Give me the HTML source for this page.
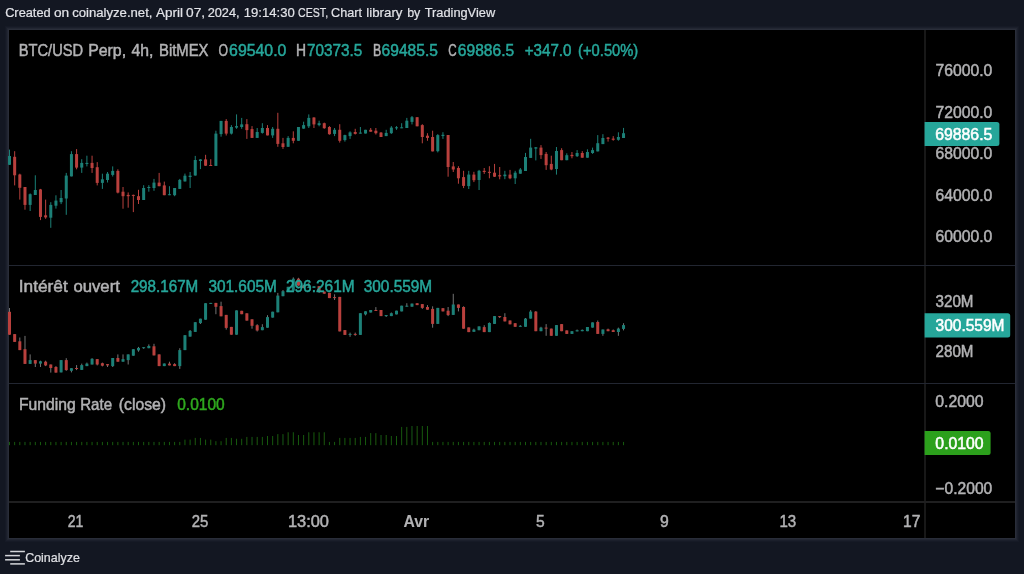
<!DOCTYPE html>
<html lang="fr"><head><meta charset="utf-8"><title>BTC/USD Perp, 4h, BitMEX - Coinalyze</title>
<style>html,body{margin:0;padding:0;background:#131722;overflow:hidden}svg{display:block}text{white-space:pre}</style></head>
<body>
<svg width="1024" height="574" viewBox="0 0 1024 574" font-family="'Liberation Sans', sans-serif">
<rect x="0.00" y="0.00" width="1024.00" height="574.00" fill="#131722"/>
<rect x="5.00" y="26.00" width="1014.00" height="516.00" fill="#161a26"/>
<rect x="6.00" y="27.00" width="1012.00" height="514.00" fill="#1b1f2b"/>
<rect x="7.00" y="28.00" width="1010.00" height="512.00" fill="#222632"/>
<rect x="8.00" y="29.00" width="1008.00" height="510.00" fill="#292d39"/>
<rect x="9.00" y="30.00" width="1006.00" height="508.00" fill="#000000"/>
<defs><clipPath id="cp"><rect x="8" y="30" width="916" height="471"/></clipPath><filter id="bl" x="0" y="0" width="1024" height="574" filterUnits="userSpaceOnUse"><feGaussianBlur stdDeviation="0.4"/></filter></defs>
<rect x="924.00" y="30.00" width="2.00" height="508.00" fill="#181818"/>
<rect x="9.00" y="265.00" width="1006.00" height="1.00" fill="#222631"/>
<rect x="9.00" y="383.00" width="1006.00" height="1.00" fill="#222631"/>
<rect x="9.00" y="501.00" width="1006.00" height="2.00" fill="#1f1f20"/>
<g clip-path="url(#cp)"><g filter="url(#bl)">
<rect x="9.00" y="149.60" width="1.00" height="15.20" fill="#1d8077"/>
<rect x="8.00" y="156.00" width="3.00" height="8.80" fill="#1d8077"/>
<rect x="14.16" y="151.20" width="1.00" height="34.20" fill="#b9413e"/>
<rect x="13.16" y="156.80" width="3.00" height="18.50" fill="#b9413e"/>
<rect x="19.32" y="173.70" width="1.00" height="25.90" fill="#b9413e"/>
<rect x="18.32" y="174.50" width="3.00" height="13.30" fill="#b9413e"/>
<rect x="24.48" y="187.00" width="1.00" height="22.70" fill="#b9413e"/>
<rect x="23.48" y="187.00" width="3.00" height="17.90" fill="#b9413e"/>
<rect x="29.64" y="193.40" width="1.00" height="17.60" fill="#1d8077"/>
<rect x="28.64" y="194.20" width="3.00" height="10.70" fill="#1d8077"/>
<rect x="34.80" y="175.30" width="1.00" height="19.70" fill="#1d8077"/>
<rect x="33.80" y="190.00" width="3.00" height="5.00" fill="#1d8077"/>
<rect x="39.96" y="188.90" width="1.00" height="31.20" fill="#b9413e"/>
<rect x="38.96" y="189.40" width="3.00" height="27.50" fill="#b9413e"/>
<rect x="45.12" y="199.60" width="1.00" height="19.20" fill="#b9413e"/>
<rect x="44.12" y="215.30" width="3.00" height="2.10" fill="#b9413e"/>
<rect x="50.28" y="202.20" width="1.00" height="25.60" fill="#1d8077"/>
<rect x="49.28" y="204.90" width="3.00" height="12.80" fill="#1d8077"/>
<rect x="55.44" y="195.30" width="1.00" height="13.30" fill="#1d8077"/>
<rect x="54.44" y="200.60" width="3.00" height="5.10" fill="#1d8077"/>
<rect x="60.60" y="190.00" width="1.00" height="14.10" fill="#1d8077"/>
<rect x="59.60" y="198.00" width="3.00" height="4.20" fill="#1d8077"/>
<rect x="65.76" y="172.90" width="1.00" height="41.90" fill="#1d8077"/>
<rect x="64.76" y="175.60" width="3.00" height="22.90" fill="#1d8077"/>
<rect x="70.92" y="151.20" width="1.00" height="25.20" fill="#1d8077"/>
<rect x="69.92" y="154.10" width="3.00" height="22.30" fill="#1d8077"/>
<rect x="76.08" y="149.10" width="1.00" height="20.20" fill="#b9413e"/>
<rect x="75.08" y="154.10" width="3.00" height="13.50" fill="#b9413e"/>
<rect x="81.24" y="159.20" width="1.00" height="13.70" fill="#1d8077"/>
<rect x="80.24" y="162.90" width="3.00" height="4.70" fill="#1d8077"/>
<rect x="86.40" y="155.70" width="1.00" height="10.70" fill="#1d8077"/>
<rect x="85.40" y="162.90" width="3.00" height="1.10" fill="#1d8077"/>
<rect x="91.56" y="155.70" width="1.00" height="17.20" fill="#b9413e"/>
<rect x="90.56" y="162.90" width="3.00" height="5.10" fill="#b9413e"/>
<rect x="96.72" y="162.10" width="1.00" height="23.30" fill="#b9413e"/>
<rect x="95.72" y="167.20" width="3.00" height="15.70" fill="#b9413e"/>
<rect x="101.88" y="173.70" width="1.00" height="15.20" fill="#1d8077"/>
<rect x="100.88" y="179.30" width="3.00" height="3.60" fill="#1d8077"/>
<rect x="107.04" y="172.00" width="1.00" height="10.50" fill="#1d8077"/>
<rect x="106.04" y="173.70" width="3.00" height="6.30" fill="#1d8077"/>
<rect x="112.20" y="166.40" width="1.00" height="10.10" fill="#1d8077"/>
<rect x="111.20" y="170.90" width="3.00" height="4.00" fill="#1d8077"/>
<rect x="117.36" y="169.30" width="1.00" height="24.10" fill="#b9413e"/>
<rect x="116.36" y="170.90" width="3.00" height="21.70" fill="#b9413e"/>
<rect x="122.52" y="187.00" width="1.00" height="21.70" fill="#b9413e"/>
<rect x="121.52" y="191.70" width="3.00" height="4.50" fill="#b9413e"/>
<rect x="127.68" y="192.40" width="1.00" height="15.30" fill="#b9413e"/>
<rect x="126.68" y="194.90" width="3.00" height="1.30" fill="#b9413e"/>
<rect x="132.84" y="194.60" width="1.00" height="17.50" fill="#b9413e"/>
<rect x="131.84" y="194.90" width="3.00" height="1.00" fill="#b9413e"/>
<rect x="138.00" y="189.80" width="1.00" height="14.20" fill="#b9413e"/>
<rect x="137.00" y="196.20" width="3.00" height="3.80" fill="#b9413e"/>
<rect x="143.16" y="185.20" width="1.00" height="14.80" fill="#1d8077"/>
<rect x="142.16" y="188.00" width="3.00" height="12.00" fill="#1d8077"/>
<rect x="148.32" y="185.20" width="1.00" height="6.50" fill="#1d8077"/>
<rect x="147.32" y="187.00" width="3.00" height="1.00" fill="#1d8077"/>
<rect x="153.48" y="178.90" width="1.00" height="11.90" fill="#1d8077"/>
<rect x="152.48" y="182.60" width="3.00" height="5.40" fill="#1d8077"/>
<rect x="158.64" y="172.90" width="1.00" height="13.30" fill="#b9413e"/>
<rect x="157.64" y="182.60" width="3.00" height="3.60" fill="#b9413e"/>
<rect x="163.80" y="181.60" width="1.00" height="13.60" fill="#b9413e"/>
<rect x="162.80" y="185.40" width="3.00" height="9.80" fill="#b9413e"/>
<rect x="168.96" y="186.20" width="1.00" height="9.00" fill="#1d8077"/>
<rect x="167.96" y="194.20" width="3.00" height="1.00" fill="#1d8077"/>
<rect x="174.12" y="188.00" width="1.00" height="8.20" fill="#1d8077"/>
<rect x="173.12" y="188.00" width="3.00" height="7.20" fill="#1d8077"/>
<rect x="179.28" y="178.90" width="1.00" height="10.00" fill="#1d8077"/>
<rect x="178.28" y="179.90" width="3.00" height="9.00" fill="#1d8077"/>
<rect x="184.44" y="173.60" width="1.00" height="8.00" fill="#1d8077"/>
<rect x="183.44" y="175.70" width="3.00" height="5.70" fill="#1d8077"/>
<rect x="189.60" y="172.00" width="1.00" height="16.00" fill="#1d8077"/>
<rect x="188.60" y="175.70" width="3.00" height="1.30" fill="#1d8077"/>
<rect x="194.76" y="155.90" width="1.00" height="19.80" fill="#1d8077"/>
<rect x="193.76" y="160.00" width="3.00" height="15.50" fill="#1d8077"/>
<rect x="199.92" y="159.20" width="1.00" height="9.90" fill="#1d8077"/>
<rect x="198.92" y="159.40" width="3.00" height="1.60" fill="#1d8077"/>
<rect x="205.08" y="154.80" width="1.00" height="11.10" fill="#b9413e"/>
<rect x="204.08" y="159.40" width="3.00" height="6.30" fill="#b9413e"/>
<rect x="210.24" y="159.20" width="1.00" height="6.70" fill="#b9413e"/>
<rect x="209.24" y="165.00" width="3.00" height="1.00" fill="#b9413e"/>
<rect x="215.40" y="130.70" width="1.00" height="35.20" fill="#1d8077"/>
<rect x="214.40" y="133.60" width="3.00" height="32.30" fill="#1d8077"/>
<rect x="220.56" y="120.90" width="1.00" height="15.80" fill="#1d8077"/>
<rect x="219.56" y="120.90" width="3.00" height="13.20" fill="#1d8077"/>
<rect x="225.72" y="119.10" width="1.00" height="16.40" fill="#b9413e"/>
<rect x="224.72" y="120.90" width="3.00" height="12.70" fill="#b9413e"/>
<rect x="230.88" y="125.10" width="1.00" height="9.40" fill="#1d8077"/>
<rect x="229.88" y="127.00" width="3.00" height="6.60" fill="#1d8077"/>
<rect x="236.04" y="114.40" width="1.00" height="14.40" fill="#1d8077"/>
<rect x="235.04" y="126.10" width="3.00" height="1.50" fill="#1d8077"/>
<rect x="241.20" y="117.90" width="1.00" height="10.90" fill="#1d8077"/>
<rect x="240.20" y="124.40" width="3.00" height="2.60" fill="#1d8077"/>
<rect x="246.36" y="119.10" width="1.00" height="19.80" fill="#b9413e"/>
<rect x="245.36" y="124.20" width="3.00" height="5.90" fill="#b9413e"/>
<rect x="251.52" y="126.10" width="1.00" height="11.80" fill="#b9413e"/>
<rect x="250.52" y="129.10" width="3.00" height="8.80" fill="#b9413e"/>
<rect x="256.68" y="128.00" width="1.00" height="9.90" fill="#1d8077"/>
<rect x="255.68" y="132.00" width="3.00" height="5.90" fill="#1d8077"/>
<rect x="261.84" y="123.20" width="1.00" height="10.40" fill="#1d8077"/>
<rect x="260.84" y="128.00" width="3.00" height="4.90" fill="#1d8077"/>
<rect x="267.00" y="125.10" width="1.00" height="10.30" fill="#b9413e"/>
<rect x="266.00" y="128.00" width="3.00" height="7.40" fill="#b9413e"/>
<rect x="272.16" y="127.00" width="1.00" height="10.90" fill="#1d8077"/>
<rect x="271.16" y="128.80" width="3.00" height="6.60" fill="#1d8077"/>
<rect x="277.32" y="112.80" width="1.00" height="34.00" fill="#b9413e"/>
<rect x="276.32" y="128.80" width="3.00" height="15.10" fill="#b9413e"/>
<rect x="282.48" y="137.90" width="1.00" height="11.00" fill="#b9413e"/>
<rect x="281.48" y="143.30" width="3.00" height="3.70" fill="#b9413e"/>
<rect x="287.64" y="136.10" width="1.00" height="10.70" fill="#1d8077"/>
<rect x="286.64" y="137.90" width="3.00" height="8.90" fill="#1d8077"/>
<rect x="292.80" y="131.30" width="1.00" height="12.00" fill="#b9413e"/>
<rect x="291.80" y="137.90" width="3.00" height="2.90" fill="#b9413e"/>
<rect x="297.96" y="127.00" width="1.00" height="13.80" fill="#1d8077"/>
<rect x="296.96" y="127.00" width="3.00" height="13.80" fill="#1d8077"/>
<rect x="303.12" y="121.70" width="1.00" height="7.10" fill="#1d8077"/>
<rect x="302.12" y="125.10" width="3.00" height="3.50" fill="#1d8077"/>
<rect x="308.28" y="114.40" width="1.00" height="13.60" fill="#1d8077"/>
<rect x="307.28" y="117.90" width="3.00" height="8.40" fill="#1d8077"/>
<rect x="313.44" y="117.20" width="1.00" height="10.80" fill="#b9413e"/>
<rect x="312.44" y="117.50" width="3.00" height="6.90" fill="#b9413e"/>
<rect x="318.60" y="120.70" width="1.00" height="5.60" fill="#1d8077"/>
<rect x="317.60" y="123.20" width="3.00" height="1.90" fill="#1d8077"/>
<rect x="323.76" y="122.60" width="1.00" height="6.20" fill="#b9413e"/>
<rect x="322.76" y="123.20" width="3.00" height="5.00" fill="#b9413e"/>
<rect x="328.92" y="126.10" width="1.00" height="8.60" fill="#b9413e"/>
<rect x="327.92" y="127.00" width="3.00" height="7.20" fill="#b9413e"/>
<rect x="334.08" y="128.00" width="1.00" height="8.10" fill="#1d8077"/>
<rect x="333.08" y="129.80" width="3.00" height="4.10" fill="#1d8077"/>
<rect x="339.24" y="124.20" width="1.00" height="18.40" fill="#b9413e"/>
<rect x="338.24" y="129.80" width="3.00" height="11.00" fill="#b9413e"/>
<rect x="344.40" y="134.70" width="1.00" height="6.90" fill="#1d8077"/>
<rect x="343.40" y="135.10" width="3.00" height="5.00" fill="#1d8077"/>
<rect x="349.56" y="131.30" width="1.00" height="7.60" fill="#1d8077"/>
<rect x="348.56" y="132.40" width="3.00" height="3.70" fill="#1d8077"/>
<rect x="354.72" y="128.80" width="1.00" height="5.70" fill="#b9413e"/>
<rect x="353.72" y="132.00" width="3.00" height="1.90" fill="#b9413e"/>
<rect x="359.88" y="127.00" width="1.00" height="6.60" fill="#1d8077"/>
<rect x="358.88" y="132.60" width="3.00" height="1.00" fill="#1d8077"/>
<rect x="365.04" y="129.80" width="1.00" height="3.70" fill="#1d8077"/>
<rect x="364.04" y="129.80" width="3.00" height="3.70" fill="#1d8077"/>
<rect x="370.20" y="128.00" width="1.00" height="3.70" fill="#b9413e"/>
<rect x="369.20" y="129.80" width="3.00" height="1.90" fill="#b9413e"/>
<rect x="375.36" y="128.00" width="1.00" height="6.50" fill="#b9413e"/>
<rect x="374.36" y="130.70" width="3.00" height="2.50" fill="#b9413e"/>
<rect x="380.52" y="132.00" width="1.00" height="5.00" fill="#b9413e"/>
<rect x="379.52" y="132.60" width="3.00" height="4.40" fill="#b9413e"/>
<rect x="385.68" y="129.80" width="1.00" height="6.30" fill="#1d8077"/>
<rect x="384.68" y="132.90" width="3.00" height="3.20" fill="#1d8077"/>
<rect x="390.84" y="126.10" width="1.00" height="7.80" fill="#1d8077"/>
<rect x="389.84" y="127.60" width="3.00" height="5.60" fill="#1d8077"/>
<rect x="396.00" y="126.10" width="1.00" height="3.70" fill="#1d8077"/>
<rect x="395.00" y="127.30" width="3.00" height="1.00" fill="#1d8077"/>
<rect x="401.16" y="123.20" width="1.00" height="5.00" fill="#1d8077"/>
<rect x="400.16" y="127.30" width="3.00" height="1.00" fill="#1d8077"/>
<rect x="406.32" y="117.90" width="1.00" height="10.10" fill="#1d8077"/>
<rect x="405.32" y="120.70" width="3.00" height="7.30" fill="#1d8077"/>
<rect x="411.48" y="116.00" width="1.00" height="8.40" fill="#1d8077"/>
<rect x="410.48" y="117.20" width="3.00" height="4.70" fill="#1d8077"/>
<rect x="416.64" y="117.20" width="1.00" height="9.10" fill="#b9413e"/>
<rect x="415.64" y="117.20" width="3.00" height="9.10" fill="#b9413e"/>
<rect x="421.80" y="124.20" width="1.00" height="19.10" fill="#b9413e"/>
<rect x="420.80" y="125.10" width="3.00" height="11.90" fill="#b9413e"/>
<rect x="426.96" y="133.20" width="1.00" height="7.60" fill="#b9413e"/>
<rect x="425.96" y="135.70" width="3.00" height="2.20" fill="#b9413e"/>
<rect x="432.12" y="130.70" width="1.00" height="20.70" fill="#b9413e"/>
<rect x="431.12" y="137.00" width="3.00" height="14.40" fill="#b9413e"/>
<rect x="437.28" y="134.10" width="1.00" height="18.30" fill="#1d8077"/>
<rect x="436.28" y="135.10" width="3.00" height="16.10" fill="#1d8077"/>
<rect x="442.44" y="132.20" width="1.00" height="6.70" fill="#1d8077"/>
<rect x="441.44" y="134.80" width="3.00" height="1.20" fill="#1d8077"/>
<rect x="447.60" y="135.00" width="1.00" height="41.70" fill="#b9413e"/>
<rect x="446.60" y="135.00" width="3.00" height="32.00" fill="#b9413e"/>
<rect x="452.76" y="162.00" width="1.00" height="10.00" fill="#b9413e"/>
<rect x="451.76" y="166.40" width="3.00" height="3.10" fill="#b9413e"/>
<rect x="457.92" y="166.20" width="1.00" height="17.50" fill="#b9413e"/>
<rect x="456.92" y="168.00" width="3.00" height="10.30" fill="#b9413e"/>
<rect x="463.08" y="170.80" width="1.00" height="17.30" fill="#b9413e"/>
<rect x="462.08" y="177.10" width="3.00" height="8.80" fill="#b9413e"/>
<rect x="468.24" y="170.80" width="1.00" height="18.20" fill="#1d8077"/>
<rect x="467.24" y="174.60" width="3.00" height="11.50" fill="#1d8077"/>
<rect x="473.40" y="171.80" width="1.00" height="10.30" fill="#b9413e"/>
<rect x="472.40" y="174.60" width="3.00" height="5.60" fill="#b9413e"/>
<rect x="478.56" y="169.90" width="1.00" height="20.10" fill="#1d8077"/>
<rect x="477.56" y="170.80" width="3.00" height="9.20" fill="#1d8077"/>
<rect x="483.72" y="168.00" width="1.00" height="5.90" fill="#b9413e"/>
<rect x="482.72" y="170.80" width="3.00" height="1.20" fill="#b9413e"/>
<rect x="488.88" y="166.20" width="1.00" height="12.10" fill="#b9413e"/>
<rect x="487.88" y="171.80" width="3.00" height="1.10" fill="#b9413e"/>
<rect x="494.04" y="163.90" width="1.00" height="13.10" fill="#b9413e"/>
<rect x="493.04" y="172.70" width="3.00" height="4.00" fill="#b9413e"/>
<rect x="499.20" y="167.00" width="1.00" height="12.30" fill="#b9413e"/>
<rect x="498.20" y="175.20" width="3.00" height="1.20" fill="#b9413e"/>
<rect x="504.36" y="170.80" width="1.00" height="8.40" fill="#1d8077"/>
<rect x="503.36" y="174.60" width="3.00" height="1.60" fill="#1d8077"/>
<rect x="509.52" y="169.90" width="1.00" height="9.30" fill="#b9413e"/>
<rect x="508.52" y="174.60" width="3.00" height="3.70" fill="#b9413e"/>
<rect x="514.68" y="170.80" width="1.00" height="13.20" fill="#1d8077"/>
<rect x="513.68" y="172.70" width="3.00" height="5.60" fill="#1d8077"/>
<rect x="519.84" y="168.00" width="1.00" height="5.70" fill="#1d8077"/>
<rect x="518.84" y="169.50" width="3.00" height="4.20" fill="#1d8077"/>
<rect x="525.00" y="152.90" width="1.00" height="18.10" fill="#1d8077"/>
<rect x="524.00" y="157.00" width="3.00" height="14.00" fill="#1d8077"/>
<rect x="530.16" y="138.80" width="1.00" height="19.10" fill="#1d8077"/>
<rect x="529.16" y="147.60" width="3.00" height="10.30" fill="#1d8077"/>
<rect x="535.32" y="147.00" width="1.00" height="13.40" fill="#1d8077"/>
<rect x="534.32" y="147.30" width="3.00" height="1.30" fill="#1d8077"/>
<rect x="540.48" y="145.10" width="1.00" height="13.80" fill="#b9413e"/>
<rect x="539.48" y="147.60" width="3.00" height="7.50" fill="#b9413e"/>
<rect x="545.64" y="152.00" width="1.00" height="17.90" fill="#b9413e"/>
<rect x="544.64" y="153.90" width="3.00" height="11.30" fill="#b9413e"/>
<rect x="550.80" y="155.70" width="1.00" height="14.50" fill="#b9413e"/>
<rect x="549.80" y="163.90" width="3.00" height="5.60" fill="#b9413e"/>
<rect x="555.96" y="147.00" width="1.00" height="27.60" fill="#1d8077"/>
<rect x="554.96" y="151.00" width="3.00" height="18.00" fill="#1d8077"/>
<rect x="561.12" y="148.20" width="1.00" height="12.00" fill="#b9413e"/>
<rect x="560.12" y="150.10" width="3.00" height="10.10" fill="#b9413e"/>
<rect x="566.28" y="153.30" width="1.00" height="6.90" fill="#1d8077"/>
<rect x="565.28" y="155.20" width="3.00" height="5.00" fill="#1d8077"/>
<rect x="571.44" y="152.00" width="1.00" height="6.30" fill="#b9413e"/>
<rect x="570.44" y="154.90" width="3.00" height="1.30" fill="#b9413e"/>
<rect x="576.60" y="150.10" width="1.00" height="6.90" fill="#1d8077"/>
<rect x="575.60" y="153.00" width="3.00" height="3.20" fill="#1d8077"/>
<rect x="581.76" y="151.10" width="1.00" height="6.60" fill="#b9413e"/>
<rect x="580.76" y="153.00" width="3.00" height="4.70" fill="#b9413e"/>
<rect x="586.92" y="149.30" width="1.00" height="8.40" fill="#1d8077"/>
<rect x="585.92" y="152.00" width="3.00" height="5.70" fill="#1d8077"/>
<rect x="592.08" y="147.60" width="1.00" height="6.30" fill="#1d8077"/>
<rect x="591.08" y="150.10" width="3.00" height="2.90" fill="#1d8077"/>
<rect x="597.24" y="135.10" width="1.00" height="16.30" fill="#1d8077"/>
<rect x="596.24" y="143.20" width="3.00" height="8.20" fill="#1d8077"/>
<rect x="602.40" y="134.20" width="1.00" height="9.90" fill="#1d8077"/>
<rect x="601.40" y="138.00" width="3.00" height="6.10" fill="#1d8077"/>
<rect x="607.56" y="137.00" width="1.00" height="4.60" fill="#b9413e"/>
<rect x="606.56" y="137.60" width="3.00" height="1.20" fill="#b9413e"/>
<rect x="612.72" y="136.10" width="1.00" height="4.60" fill="#b9413e"/>
<rect x="611.72" y="138.60" width="3.00" height="1.20" fill="#b9413e"/>
<rect x="617.88" y="132.30" width="1.00" height="8.40" fill="#1d8077"/>
<rect x="616.88" y="137.00" width="3.00" height="2.80" fill="#1d8077"/>
<rect x="623.04" y="127.90" width="1.00" height="10.10" fill="#1d8077"/>
<rect x="622.04" y="133.20" width="3.00" height="4.80" fill="#1d8077"/>
<rect x="9.00" y="308.00" width="1.00" height="26.70" fill="#747474"/>
<rect x="8.00" y="311.80" width="3.00" height="22.90" fill="#b9413e"/>
<rect x="14.16" y="334.10" width="1.00" height="7.80" fill="#747474"/>
<rect x="13.16" y="334.10" width="3.00" height="7.80" fill="#b9413e"/>
<rect x="19.32" y="337.50" width="1.00" height="12.60" fill="#747474"/>
<rect x="18.32" y="341.30" width="3.00" height="8.80" fill="#b9413e"/>
<rect x="24.48" y="335.90" width="1.00" height="28.00" fill="#747474"/>
<rect x="23.48" y="349.20" width="3.00" height="14.70" fill="#b9413e"/>
<rect x="29.64" y="354.40" width="1.00" height="9.50" fill="#747474"/>
<rect x="28.64" y="360.10" width="3.00" height="3.80" fill="#1d8077"/>
<rect x="34.80" y="360.10" width="1.00" height="6.90" fill="#747474"/>
<rect x="33.80" y="360.10" width="3.00" height="3.50" fill="#b9413e"/>
<rect x="39.96" y="360.70" width="1.00" height="6.30" fill="#747474"/>
<rect x="38.96" y="361.30" width="3.00" height="2.30" fill="#1d8077"/>
<rect x="45.12" y="360.70" width="1.00" height="5.40" fill="#747474"/>
<rect x="44.12" y="361.70" width="3.00" height="3.70" fill="#b9413e"/>
<rect x="50.28" y="364.50" width="1.00" height="8.10" fill="#747474"/>
<rect x="49.28" y="364.50" width="3.00" height="3.50" fill="#b9413e"/>
<rect x="55.44" y="366.10" width="1.00" height="6.50" fill="#747474"/>
<rect x="54.44" y="367.00" width="3.00" height="5.60" fill="#b9413e"/>
<rect x="60.60" y="360.10" width="1.00" height="12.30" fill="#747474"/>
<rect x="59.60" y="360.10" width="3.00" height="12.30" fill="#1d8077"/>
<rect x="65.76" y="358.20" width="1.00" height="12.60" fill="#747474"/>
<rect x="64.76" y="360.10" width="3.00" height="10.00" fill="#b9413e"/>
<rect x="70.92" y="368.20" width="1.00" height="4.20" fill="#747474"/>
<rect x="69.92" y="368.20" width="3.00" height="2.60" fill="#1d8077"/>
<rect x="76.08" y="365.10" width="1.00" height="5.00" fill="#747474"/>
<rect x="75.08" y="368.00" width="3.00" height="1.00" fill="#b9413e"/>
<rect x="81.24" y="363.60" width="1.00" height="6.30" fill="#747474"/>
<rect x="80.24" y="365.10" width="3.00" height="4.80" fill="#1d8077"/>
<rect x="86.40" y="362.60" width="1.00" height="3.50" fill="#747474"/>
<rect x="85.40" y="363.60" width="3.00" height="2.50" fill="#1d8077"/>
<rect x="91.56" y="358.20" width="1.00" height="6.30" fill="#747474"/>
<rect x="90.56" y="358.80" width="3.00" height="5.70" fill="#1d8077"/>
<rect x="96.72" y="359.10" width="1.00" height="6.30" fill="#747474"/>
<rect x="95.72" y="359.10" width="3.00" height="5.40" fill="#b9413e"/>
<rect x="101.88" y="362.60" width="1.00" height="3.80" fill="#747474"/>
<rect x="100.88" y="363.20" width="3.00" height="2.50" fill="#b9413e"/>
<rect x="107.04" y="364.10" width="1.00" height="2.90" fill="#747474"/>
<rect x="106.04" y="364.10" width="3.00" height="1.30" fill="#b9413e"/>
<rect x="112.20" y="358.00" width="1.00" height="9.00" fill="#747474"/>
<rect x="111.20" y="358.00" width="3.00" height="8.10" fill="#1d8077"/>
<rect x="117.36" y="354.40" width="1.00" height="7.30" fill="#747474"/>
<rect x="116.36" y="358.00" width="3.00" height="3.70" fill="#b9413e"/>
<rect x="122.52" y="354.40" width="1.00" height="7.30" fill="#747474"/>
<rect x="121.52" y="359.10" width="3.00" height="2.60" fill="#1d8077"/>
<rect x="127.68" y="354.40" width="1.00" height="10.10" fill="#747474"/>
<rect x="126.68" y="354.40" width="3.00" height="5.70" fill="#1d8077"/>
<rect x="132.84" y="349.20" width="1.00" height="6.50" fill="#747474"/>
<rect x="131.84" y="349.20" width="3.00" height="6.50" fill="#1d8077"/>
<rect x="138.00" y="346.90" width="1.00" height="4.80" fill="#747474"/>
<rect x="137.00" y="347.90" width="3.00" height="2.50" fill="#1d8077"/>
<rect x="143.16" y="347.20" width="1.00" height="1.60" fill="#747474"/>
<rect x="142.16" y="347.20" width="3.00" height="1.00" fill="#1d8077"/>
<rect x="148.32" y="344.40" width="1.00" height="3.80" fill="#747474"/>
<rect x="147.32" y="346.00" width="3.00" height="2.20" fill="#1d8077"/>
<rect x="153.48" y="343.80" width="1.00" height="11.60" fill="#747474"/>
<rect x="152.48" y="346.30" width="3.00" height="9.10" fill="#b9413e"/>
<rect x="158.64" y="354.40" width="1.00" height="11.70" fill="#747474"/>
<rect x="157.64" y="354.40" width="3.00" height="11.70" fill="#b9413e"/>
<rect x="163.80" y="363.50" width="1.00" height="2.60" fill="#747474"/>
<rect x="162.80" y="363.50" width="3.00" height="2.60" fill="#1d8077"/>
<rect x="168.96" y="361.70" width="1.00" height="3.70" fill="#747474"/>
<rect x="167.96" y="363.60" width="3.00" height="1.80" fill="#b9413e"/>
<rect x="174.12" y="363.20" width="1.00" height="2.90" fill="#747474"/>
<rect x="173.12" y="364.10" width="3.00" height="2.00" fill="#b9413e"/>
<rect x="179.28" y="348.20" width="1.00" height="20.70" fill="#747474"/>
<rect x="178.28" y="350.10" width="3.00" height="16.00" fill="#1d8077"/>
<rect x="184.44" y="335.20" width="1.00" height="14.90" fill="#747474"/>
<rect x="183.44" y="335.20" width="3.00" height="14.90" fill="#1d8077"/>
<rect x="189.60" y="330.00" width="1.00" height="6.60" fill="#747474"/>
<rect x="188.60" y="330.90" width="3.00" height="5.70" fill="#1d8077"/>
<rect x="194.76" y="322.20" width="1.00" height="9.70" fill="#747474"/>
<rect x="193.76" y="322.20" width="3.00" height="9.70" fill="#1d8077"/>
<rect x="199.92" y="318.70" width="1.00" height="5.30" fill="#747474"/>
<rect x="198.92" y="318.70" width="3.00" height="4.40" fill="#1d8077"/>
<rect x="205.08" y="303.20" width="1.00" height="16.50" fill="#747474"/>
<rect x="204.08" y="303.20" width="3.00" height="16.50" fill="#1d8077"/>
<rect x="210.24" y="302.90" width="1.00" height="1.00" fill="#747474"/>
<rect x="209.24" y="302.90" width="3.00" height="1.00" fill="#1d8077"/>
<rect x="215.40" y="302.90" width="1.00" height="11.30" fill="#747474"/>
<rect x="214.40" y="302.90" width="3.00" height="3.90" fill="#b9413e"/>
<rect x="220.56" y="301.70" width="1.00" height="14.60" fill="#747474"/>
<rect x="219.56" y="306.10" width="3.00" height="10.20" fill="#b9413e"/>
<rect x="225.72" y="314.90" width="1.00" height="14.70" fill="#747474"/>
<rect x="224.72" y="314.90" width="3.00" height="13.00" fill="#b9413e"/>
<rect x="230.88" y="326.90" width="1.00" height="7.80" fill="#747474"/>
<rect x="229.88" y="326.90" width="3.00" height="7.80" fill="#b9413e"/>
<rect x="236.04" y="310.40" width="1.00" height="24.30" fill="#747474"/>
<rect x="235.04" y="310.40" width="3.00" height="24.30" fill="#1d8077"/>
<rect x="241.20" y="310.80" width="1.00" height="3.40" fill="#747474"/>
<rect x="240.20" y="310.80" width="3.00" height="3.40" fill="#b9413e"/>
<rect x="246.36" y="313.30" width="1.00" height="7.30" fill="#747474"/>
<rect x="245.36" y="313.30" width="3.00" height="7.30" fill="#b9413e"/>
<rect x="251.52" y="319.30" width="1.00" height="9.40" fill="#747474"/>
<rect x="250.52" y="319.30" width="3.00" height="6.50" fill="#b9413e"/>
<rect x="256.68" y="324.20" width="1.00" height="7.30" fill="#747474"/>
<rect x="255.68" y="325.20" width="3.00" height="5.30" fill="#b9413e"/>
<rect x="261.84" y="324.20" width="1.00" height="6.00" fill="#747474"/>
<rect x="260.84" y="327.10" width="3.00" height="3.10" fill="#1d8077"/>
<rect x="267.00" y="315.20" width="1.00" height="12.50" fill="#747474"/>
<rect x="266.00" y="317.10" width="3.00" height="10.60" fill="#1d8077"/>
<rect x="272.16" y="311.70" width="1.00" height="5.90" fill="#747474"/>
<rect x="271.16" y="311.70" width="3.00" height="5.90" fill="#1d8077"/>
<rect x="277.32" y="292.90" width="1.00" height="19.40" fill="#747474"/>
<rect x="276.32" y="295.60" width="3.00" height="16.70" fill="#1d8077"/>
<rect x="282.48" y="290.00" width="1.00" height="6.20" fill="#747474"/>
<rect x="281.48" y="291.20" width="3.00" height="5.00" fill="#1d8077"/>
<rect x="287.64" y="286.80" width="1.00" height="5.00" fill="#747474"/>
<rect x="286.64" y="286.80" width="3.00" height="5.00" fill="#1d8077"/>
<rect x="292.80" y="277.40" width="1.00" height="13.20" fill="#747474"/>
<rect x="291.80" y="278.70" width="3.00" height="11.90" fill="#1d8077"/>
<rect x="297.96" y="277.80" width="1.00" height="7.80" fill="#747474"/>
<rect x="296.96" y="278.70" width="3.00" height="6.90" fill="#b9413e"/>
<rect x="303.12" y="285.00" width="1.00" height="3.00" fill="#747474"/>
<rect x="302.12" y="285.60" width="3.00" height="2.40" fill="#b9413e"/>
<rect x="308.28" y="282.40" width="1.00" height="5.60" fill="#747474"/>
<rect x="307.28" y="286.80" width="3.00" height="1.20" fill="#1d8077"/>
<rect x="313.44" y="286.20" width="1.00" height="1.80" fill="#747474"/>
<rect x="312.44" y="286.20" width="3.00" height="1.80" fill="#1d8077"/>
<rect x="318.60" y="286.20" width="1.00" height="6.80" fill="#747474"/>
<rect x="317.60" y="286.20" width="3.00" height="5.60" fill="#b9413e"/>
<rect x="323.76" y="291.60" width="1.00" height="2.10" fill="#747474"/>
<rect x="322.76" y="291.60" width="3.00" height="2.10" fill="#b9413e"/>
<rect x="328.92" y="292.80" width="1.00" height="5.30" fill="#747474"/>
<rect x="327.92" y="292.80" width="3.00" height="5.30" fill="#b9413e"/>
<rect x="334.08" y="294.30" width="1.00" height="5.70" fill="#747474"/>
<rect x="333.08" y="297.10" width="3.00" height="1.00" fill="#b9413e"/>
<rect x="339.24" y="296.90" width="1.00" height="34.50" fill="#747474"/>
<rect x="338.24" y="296.90" width="3.00" height="34.50" fill="#b9413e"/>
<rect x="344.40" y="330.10" width="1.00" height="4.80" fill="#747474"/>
<rect x="343.40" y="330.10" width="3.00" height="4.80" fill="#b9413e"/>
<rect x="349.56" y="332.60" width="1.00" height="4.20" fill="#747474"/>
<rect x="348.56" y="333.90" width="3.00" height="1.00" fill="#1d8077"/>
<rect x="354.72" y="332.60" width="1.00" height="3.20" fill="#747474"/>
<rect x="353.72" y="333.90" width="3.00" height="1.00" fill="#b9413e"/>
<rect x="359.88" y="313.20" width="1.00" height="21.70" fill="#747474"/>
<rect x="358.88" y="313.20" width="3.00" height="21.70" fill="#1d8077"/>
<rect x="365.04" y="311.30" width="1.00" height="4.10" fill="#747474"/>
<rect x="364.04" y="311.30" width="3.00" height="3.10" fill="#1d8077"/>
<rect x="370.20" y="310.00" width="1.00" height="2.50" fill="#747474"/>
<rect x="369.20" y="310.00" width="3.00" height="2.50" fill="#1d8077"/>
<rect x="375.36" y="307.10" width="1.00" height="3.90" fill="#747474"/>
<rect x="374.36" y="310.00" width="3.00" height="1.00" fill="#b9413e"/>
<rect x="380.52" y="310.00" width="1.00" height="6.10" fill="#747474"/>
<rect x="379.52" y="310.00" width="3.00" height="6.10" fill="#b9413e"/>
<rect x="385.68" y="315.00" width="1.00" height="2.00" fill="#747474"/>
<rect x="384.68" y="315.00" width="3.00" height="1.10" fill="#1d8077"/>
<rect x="390.84" y="312.50" width="1.00" height="3.60" fill="#747474"/>
<rect x="389.84" y="313.20" width="3.00" height="2.90" fill="#1d8077"/>
<rect x="396.00" y="310.70" width="1.00" height="3.70" fill="#747474"/>
<rect x="395.00" y="310.70" width="3.00" height="3.70" fill="#1d8077"/>
<rect x="401.16" y="305.70" width="1.00" height="5.70" fill="#747474"/>
<rect x="400.16" y="305.70" width="3.00" height="5.70" fill="#1d8077"/>
<rect x="406.32" y="303.20" width="1.00" height="3.50" fill="#747474"/>
<rect x="405.32" y="305.70" width="3.00" height="1.00" fill="#1d8077"/>
<rect x="411.48" y="303.60" width="1.00" height="3.10" fill="#747474"/>
<rect x="410.48" y="303.60" width="3.00" height="3.10" fill="#1d8077"/>
<rect x="416.64" y="303.20" width="1.00" height="1.90" fill="#747474"/>
<rect x="415.64" y="303.20" width="3.00" height="1.90" fill="#b9413e"/>
<rect x="421.80" y="304.10" width="1.00" height="4.80" fill="#747474"/>
<rect x="420.80" y="304.10" width="3.00" height="3.80" fill="#b9413e"/>
<rect x="426.96" y="305.10" width="1.00" height="4.60" fill="#747474"/>
<rect x="425.96" y="307.00" width="3.00" height="2.70" fill="#b9413e"/>
<rect x="432.12" y="306.30" width="1.00" height="21.40" fill="#747474"/>
<rect x="431.12" y="308.90" width="3.00" height="15.00" fill="#b9413e"/>
<rect x="437.28" y="307.90" width="1.00" height="16.00" fill="#747474"/>
<rect x="436.28" y="307.90" width="3.00" height="16.00" fill="#1d8077"/>
<rect x="442.44" y="308.20" width="1.00" height="3.20" fill="#747474"/>
<rect x="441.44" y="308.20" width="3.00" height="3.20" fill="#b9413e"/>
<rect x="447.60" y="307.00" width="1.00" height="9.10" fill="#747474"/>
<rect x="446.60" y="310.70" width="3.00" height="4.40" fill="#b9413e"/>
<rect x="452.76" y="293.80" width="1.00" height="21.10" fill="#747474"/>
<rect x="451.76" y="304.50" width="3.00" height="10.40" fill="#1d8077"/>
<rect x="457.92" y="304.50" width="1.00" height="6.90" fill="#747474"/>
<rect x="456.92" y="304.50" width="3.00" height="3.40" fill="#b9413e"/>
<rect x="463.08" y="306.30" width="1.00" height="22.40" fill="#747474"/>
<rect x="462.08" y="307.00" width="3.00" height="21.70" fill="#b9413e"/>
<rect x="468.24" y="327.40" width="1.00" height="4.70" fill="#747474"/>
<rect x="467.24" y="327.40" width="3.00" height="4.70" fill="#b9413e"/>
<rect x="473.40" y="328.70" width="1.00" height="3.10" fill="#747474"/>
<rect x="472.40" y="329.60" width="3.00" height="2.20" fill="#1d8077"/>
<rect x="478.56" y="326.40" width="1.00" height="3.80" fill="#747474"/>
<rect x="477.56" y="326.40" width="3.00" height="3.80" fill="#1d8077"/>
<rect x="483.72" y="325.20" width="1.00" height="6.90" fill="#747474"/>
<rect x="482.72" y="327.10" width="3.00" height="5.00" fill="#b9413e"/>
<rect x="488.88" y="322.40" width="1.00" height="9.70" fill="#747474"/>
<rect x="487.88" y="323.00" width="3.00" height="9.10" fill="#1d8077"/>
<rect x="494.04" y="316.10" width="1.00" height="7.80" fill="#747474"/>
<rect x="493.04" y="316.10" width="3.00" height="7.80" fill="#1d8077"/>
<rect x="499.20" y="316.10" width="1.00" height="1.90" fill="#747474"/>
<rect x="498.20" y="316.10" width="3.00" height="1.00" fill="#b9413e"/>
<rect x="504.36" y="313.20" width="1.00" height="8.20" fill="#747474"/>
<rect x="503.36" y="317.00" width="3.00" height="4.40" fill="#b9413e"/>
<rect x="509.52" y="320.50" width="1.00" height="3.80" fill="#747474"/>
<rect x="508.52" y="320.50" width="3.00" height="3.80" fill="#b9413e"/>
<rect x="514.68" y="323.20" width="1.00" height="3.60" fill="#747474"/>
<rect x="513.68" y="323.20" width="3.00" height="3.60" fill="#b9413e"/>
<rect x="519.84" y="325.20" width="1.00" height="1.60" fill="#747474"/>
<rect x="518.84" y="325.80" width="3.00" height="1.00" fill="#1d8077"/>
<rect x="525.00" y="318.00" width="1.00" height="8.80" fill="#747474"/>
<rect x="524.00" y="318.60" width="3.00" height="8.20" fill="#1d8077"/>
<rect x="530.16" y="310.10" width="1.00" height="8.50" fill="#747474"/>
<rect x="529.16" y="311.60" width="3.00" height="7.00" fill="#1d8077"/>
<rect x="535.32" y="311.00" width="1.00" height="20.20" fill="#747474"/>
<rect x="534.32" y="311.60" width="3.00" height="19.60" fill="#b9413e"/>
<rect x="540.48" y="326.80" width="1.00" height="4.40" fill="#747474"/>
<rect x="539.48" y="327.60" width="3.00" height="3.60" fill="#1d8077"/>
<rect x="545.64" y="324.10" width="1.00" height="11.70" fill="#747474"/>
<rect x="544.64" y="327.60" width="3.00" height="1.00" fill="#b9413e"/>
<rect x="550.80" y="328.60" width="1.00" height="7.20" fill="#747474"/>
<rect x="549.80" y="328.60" width="3.00" height="7.20" fill="#b9413e"/>
<rect x="555.96" y="325.10" width="1.00" height="10.70" fill="#747474"/>
<rect x="554.96" y="325.10" width="3.00" height="10.70" fill="#1d8077"/>
<rect x="561.12" y="324.10" width="1.00" height="7.10" fill="#747474"/>
<rect x="560.12" y="324.10" width="3.00" height="7.10" fill="#b9413e"/>
<rect x="566.28" y="330.40" width="1.00" height="3.50" fill="#747474"/>
<rect x="565.28" y="330.40" width="3.00" height="3.50" fill="#b9413e"/>
<rect x="571.44" y="331.20" width="1.00" height="2.70" fill="#747474"/>
<rect x="570.44" y="331.20" width="3.00" height="2.70" fill="#1d8077"/>
<rect x="576.60" y="329.50" width="1.00" height="1.90" fill="#747474"/>
<rect x="575.60" y="330.20" width="3.00" height="1.20" fill="#1d8077"/>
<rect x="581.76" y="329.50" width="1.00" height="1.70" fill="#747474"/>
<rect x="580.76" y="329.90" width="3.00" height="1.30" fill="#1d8077"/>
<rect x="586.92" y="327.00" width="1.00" height="4.20" fill="#747474"/>
<rect x="585.92" y="327.00" width="3.00" height="4.20" fill="#1d8077"/>
<rect x="592.08" y="322.40" width="1.00" height="5.20" fill="#747474"/>
<rect x="591.08" y="322.40" width="3.00" height="5.20" fill="#1d8077"/>
<rect x="597.24" y="320.50" width="1.00" height="13.40" fill="#747474"/>
<rect x="596.24" y="322.00" width="3.00" height="11.90" fill="#b9413e"/>
<rect x="602.40" y="329.50" width="1.00" height="6.30" fill="#747474"/>
<rect x="601.40" y="329.50" width="3.00" height="4.40" fill="#1d8077"/>
<rect x="607.56" y="328.60" width="1.00" height="2.60" fill="#747474"/>
<rect x="606.56" y="329.30" width="3.00" height="1.90" fill="#b9413e"/>
<rect x="612.72" y="329.50" width="1.00" height="2.50" fill="#747474"/>
<rect x="611.72" y="330.20" width="3.00" height="1.80" fill="#b9413e"/>
<rect x="617.88" y="327.60" width="1.00" height="8.20" fill="#747474"/>
<rect x="616.88" y="328.60" width="3.00" height="3.40" fill="#1d8077"/>
<rect x="623.04" y="323.20" width="1.00" height="7.20" fill="#747474"/>
<rect x="622.04" y="325.10" width="3.00" height="3.80" fill="#1d8077"/>
<rect x="9.00" y="441.90" width="1.00" height="3.30" fill="#195a0f"/>
<rect x="14.16" y="441.90" width="1.00" height="3.30" fill="#195a0f"/>
<rect x="19.32" y="441.90" width="1.00" height="3.30" fill="#195a0f"/>
<rect x="24.48" y="441.90" width="1.00" height="3.30" fill="#195a0f"/>
<rect x="29.64" y="441.90" width="1.00" height="3.30" fill="#195a0f"/>
<rect x="34.80" y="441.90" width="1.00" height="3.30" fill="#195a0f"/>
<rect x="39.96" y="441.90" width="1.00" height="3.30" fill="#195a0f"/>
<rect x="45.12" y="441.90" width="1.00" height="3.30" fill="#195a0f"/>
<rect x="50.28" y="441.90" width="1.00" height="3.30" fill="#195a0f"/>
<rect x="55.44" y="441.90" width="1.00" height="3.30" fill="#195a0f"/>
<rect x="60.60" y="441.90" width="1.00" height="3.30" fill="#195a0f"/>
<rect x="65.76" y="441.90" width="1.00" height="3.30" fill="#195a0f"/>
<rect x="70.92" y="441.90" width="1.00" height="3.30" fill="#195a0f"/>
<rect x="76.08" y="441.90" width="1.00" height="3.30" fill="#195a0f"/>
<rect x="81.24" y="441.90" width="1.00" height="3.30" fill="#195a0f"/>
<rect x="86.40" y="441.90" width="1.00" height="3.30" fill="#195a0f"/>
<rect x="91.56" y="441.90" width="1.00" height="3.30" fill="#195a0f"/>
<rect x="96.72" y="441.90" width="1.00" height="3.30" fill="#195a0f"/>
<rect x="101.88" y="441.90" width="1.00" height="3.30" fill="#195a0f"/>
<rect x="107.04" y="441.90" width="1.00" height="3.30" fill="#195a0f"/>
<rect x="112.20" y="441.90" width="1.00" height="3.30" fill="#195a0f"/>
<rect x="117.36" y="441.90" width="1.00" height="3.30" fill="#195a0f"/>
<rect x="122.52" y="441.90" width="1.00" height="3.30" fill="#195a0f"/>
<rect x="127.68" y="441.90" width="1.00" height="3.30" fill="#195a0f"/>
<rect x="132.84" y="441.90" width="1.00" height="3.30" fill="#195a0f"/>
<rect x="138.00" y="441.90" width="1.00" height="3.30" fill="#195a0f"/>
<rect x="143.16" y="441.90" width="1.00" height="3.30" fill="#195a0f"/>
<rect x="148.32" y="441.90" width="1.00" height="3.30" fill="#195a0f"/>
<rect x="153.48" y="441.90" width="1.00" height="3.30" fill="#195a0f"/>
<rect x="158.64" y="441.90" width="1.00" height="3.30" fill="#195a0f"/>
<rect x="163.80" y="441.90" width="1.00" height="3.30" fill="#195a0f"/>
<rect x="168.96" y="441.90" width="1.00" height="3.30" fill="#195a0f"/>
<rect x="174.12" y="441.90" width="1.00" height="3.30" fill="#195a0f"/>
<rect x="179.28" y="441.90" width="1.00" height="3.30" fill="#195a0f"/>
<rect x="184.44" y="439.60" width="1.00" height="5.60" fill="#195a0f"/>
<rect x="189.60" y="439.60" width="1.00" height="5.60" fill="#195a0f"/>
<rect x="194.76" y="437.90" width="1.00" height="7.30" fill="#195a0f"/>
<rect x="199.92" y="437.90" width="1.00" height="7.30" fill="#195a0f"/>
<rect x="205.08" y="439.60" width="1.00" height="5.60" fill="#195a0f"/>
<rect x="210.24" y="439.60" width="1.00" height="5.60" fill="#195a0f"/>
<rect x="215.40" y="441.20" width="1.00" height="4.00" fill="#195a0f"/>
<rect x="220.56" y="441.20" width="1.00" height="4.00" fill="#195a0f"/>
<rect x="225.72" y="437.90" width="1.00" height="7.30" fill="#195a0f"/>
<rect x="230.88" y="437.90" width="1.00" height="7.30" fill="#195a0f"/>
<rect x="236.04" y="438.75" width="1.00" height="6.45" fill="#195a0f"/>
<rect x="241.20" y="438.75" width="1.00" height="6.45" fill="#195a0f"/>
<rect x="246.36" y="436.90" width="1.00" height="8.30" fill="#195a0f"/>
<rect x="251.52" y="436.90" width="1.00" height="8.30" fill="#195a0f"/>
<rect x="256.68" y="436.90" width="1.00" height="8.30" fill="#195a0f"/>
<rect x="261.84" y="436.90" width="1.00" height="8.30" fill="#195a0f"/>
<rect x="267.00" y="436.00" width="1.00" height="9.20" fill="#195a0f"/>
<rect x="272.16" y="436.00" width="1.00" height="9.20" fill="#195a0f"/>
<rect x="277.32" y="434.10" width="1.00" height="11.10" fill="#195a0f"/>
<rect x="282.48" y="434.10" width="1.00" height="11.10" fill="#195a0f"/>
<rect x="287.64" y="432.25" width="1.00" height="12.95" fill="#195a0f"/>
<rect x="292.80" y="432.25" width="1.00" height="12.95" fill="#195a0f"/>
<rect x="297.96" y="435.00" width="1.00" height="10.20" fill="#195a0f"/>
<rect x="303.12" y="435.00" width="1.00" height="10.20" fill="#195a0f"/>
<rect x="308.28" y="432.25" width="1.00" height="12.95" fill="#195a0f"/>
<rect x="313.44" y="432.25" width="1.00" height="12.95" fill="#195a0f"/>
<rect x="318.60" y="432.25" width="1.00" height="12.95" fill="#195a0f"/>
<rect x="323.76" y="432.25" width="1.00" height="12.95" fill="#195a0f"/>
<rect x="328.92" y="441.90" width="1.00" height="3.30" fill="#195a0f"/>
<rect x="334.08" y="441.90" width="1.00" height="3.30" fill="#195a0f"/>
<rect x="339.24" y="437.90" width="1.00" height="7.30" fill="#195a0f"/>
<rect x="344.40" y="437.90" width="1.00" height="7.30" fill="#195a0f"/>
<rect x="349.56" y="437.90" width="1.00" height="7.30" fill="#195a0f"/>
<rect x="354.72" y="437.90" width="1.00" height="7.30" fill="#195a0f"/>
<rect x="359.88" y="436.90" width="1.00" height="8.30" fill="#195a0f"/>
<rect x="365.04" y="436.90" width="1.00" height="8.30" fill="#195a0f"/>
<rect x="370.20" y="433.10" width="1.00" height="12.10" fill="#195a0f"/>
<rect x="375.36" y="433.10" width="1.00" height="12.10" fill="#195a0f"/>
<rect x="380.52" y="435.00" width="1.00" height="10.20" fill="#195a0f"/>
<rect x="385.68" y="435.00" width="1.00" height="10.20" fill="#195a0f"/>
<rect x="390.84" y="436.00" width="1.00" height="9.20" fill="#195a0f"/>
<rect x="396.00" y="436.00" width="1.00" height="9.20" fill="#195a0f"/>
<rect x="401.16" y="426.90" width="1.00" height="18.30" fill="#195a0f"/>
<rect x="406.32" y="426.90" width="1.00" height="18.30" fill="#195a0f"/>
<rect x="411.48" y="426.00" width="1.00" height="19.20" fill="#195a0f"/>
<rect x="416.64" y="426.00" width="1.00" height="19.20" fill="#195a0f"/>
<rect x="421.80" y="426.00" width="1.00" height="19.20" fill="#195a0f"/>
<rect x="426.96" y="426.00" width="1.00" height="19.20" fill="#195a0f"/>
<rect x="432.12" y="441.90" width="1.00" height="3.30" fill="#195a0f"/>
<rect x="437.28" y="441.90" width="1.00" height="3.30" fill="#195a0f"/>
<rect x="442.44" y="441.90" width="1.00" height="3.30" fill="#195a0f"/>
<rect x="447.60" y="441.90" width="1.00" height="3.30" fill="#195a0f"/>
<rect x="452.76" y="441.90" width="1.00" height="3.30" fill="#195a0f"/>
<rect x="457.92" y="441.90" width="1.00" height="3.30" fill="#195a0f"/>
<rect x="463.08" y="441.90" width="1.00" height="3.30" fill="#195a0f"/>
<rect x="468.24" y="441.90" width="1.00" height="3.30" fill="#195a0f"/>
<rect x="473.40" y="441.90" width="1.00" height="3.30" fill="#195a0f"/>
<rect x="478.56" y="441.90" width="1.00" height="3.30" fill="#195a0f"/>
<rect x="483.72" y="441.90" width="1.00" height="3.30" fill="#195a0f"/>
<rect x="488.88" y="441.90" width="1.00" height="3.30" fill="#195a0f"/>
<rect x="494.04" y="441.90" width="1.00" height="3.30" fill="#195a0f"/>
<rect x="499.20" y="441.90" width="1.00" height="3.30" fill="#195a0f"/>
<rect x="504.36" y="441.90" width="1.00" height="3.30" fill="#195a0f"/>
<rect x="509.52" y="441.90" width="1.00" height="3.30" fill="#195a0f"/>
<rect x="514.68" y="441.90" width="1.00" height="3.30" fill="#195a0f"/>
<rect x="519.84" y="441.90" width="1.00" height="3.30" fill="#195a0f"/>
<rect x="525.00" y="441.90" width="1.00" height="3.30" fill="#195a0f"/>
<rect x="530.16" y="441.90" width="1.00" height="3.30" fill="#195a0f"/>
<rect x="535.32" y="441.90" width="1.00" height="3.30" fill="#195a0f"/>
<rect x="540.48" y="441.90" width="1.00" height="3.30" fill="#195a0f"/>
<rect x="545.64" y="441.90" width="1.00" height="3.30" fill="#195a0f"/>
<rect x="550.80" y="441.90" width="1.00" height="3.30" fill="#195a0f"/>
<rect x="555.96" y="441.90" width="1.00" height="3.30" fill="#195a0f"/>
<rect x="561.12" y="441.90" width="1.00" height="3.30" fill="#195a0f"/>
<rect x="566.28" y="441.90" width="1.00" height="3.30" fill="#195a0f"/>
<rect x="571.44" y="441.90" width="1.00" height="3.30" fill="#195a0f"/>
<rect x="576.60" y="441.90" width="1.00" height="3.30" fill="#195a0f"/>
<rect x="581.76" y="441.90" width="1.00" height="3.30" fill="#195a0f"/>
<rect x="586.92" y="441.90" width="1.00" height="3.30" fill="#195a0f"/>
<rect x="592.08" y="441.90" width="1.00" height="3.30" fill="#195a0f"/>
<rect x="597.24" y="441.90" width="1.00" height="3.30" fill="#195a0f"/>
<rect x="602.40" y="441.90" width="1.00" height="3.30" fill="#195a0f"/>
<rect x="607.56" y="441.90" width="1.00" height="3.30" fill="#195a0f"/>
<rect x="612.72" y="441.90" width="1.00" height="3.30" fill="#195a0f"/>
<rect x="617.88" y="441.90" width="1.00" height="3.30" fill="#195a0f"/>
<rect x="623.04" y="441.90" width="1.00" height="3.30" fill="#195a0f"/>
</g></g>
<path d="M924.6,121.9H996.9Q999.4,121.9 999.4,124.4V143.5Q999.4,146 996.9,146H924.6Z" fill="#26a69a"/>
<path d="M924.6,313.2H1007.7Q1010.2,313.2 1010.2,315.7V335.1Q1010.2,337.6 1007.7,337.6H924.6Z" fill="#26a69a"/>
<path d="M924.6,430.9H988.1Q990.6,430.9 990.6,433.4V452.4Q990.6,454.9 988.1,454.9H924.6Z" fill="#2ca01c"/>
<rect x="10.20" y="550.75" width="14.70" height="1.50" fill="#d4d5d9"/>
<rect x="5.10" y="554.85" width="14.80" height="1.50" fill="#d4d5d9"/>
<rect x="5.10" y="559.05" width="14.80" height="1.50" fill="#d4d5d9"/>
<rect x="10.20" y="563.15" width="14.70" height="1.50" fill="#d4d5d9"/>
<text y="16.80" font-size="13" font-weight="normal" fill="#e2e3e8" stroke="#e2e3e8" stroke-width="0.2"><tspan x="5.13" textLength="45.53" lengthAdjust="spacingAndGlyphs">Created</tspan> <tspan x="53.90" textLength="15.24" lengthAdjust="spacingAndGlyphs">on</tspan> <tspan x="72.21" textLength="80.27" lengthAdjust="spacingAndGlyphs">coinalyze.net,</tspan> <tspan x="156.10" textLength="27.04" lengthAdjust="spacingAndGlyphs">April</tspan> <tspan x="186.12" textLength="19.06" lengthAdjust="spacingAndGlyphs">07,</tspan> <tspan x="207.65" textLength="32.01" lengthAdjust="spacingAndGlyphs">2024,</tspan> <tspan x="243.78" textLength="50.98" lengthAdjust="spacingAndGlyphs">19:14:30</tspan> <tspan x="298.11" textLength="29.99" lengthAdjust="spacingAndGlyphs">CEST,</tspan> <tspan x="331.04" textLength="30.91" lengthAdjust="spacingAndGlyphs">Chart</tspan> <tspan x="366.37" textLength="36.10" lengthAdjust="spacingAndGlyphs">library</tspan> <tspan x="407.16" textLength="13.17" lengthAdjust="spacingAndGlyphs">by</tspan> <tspan x="424.71" textLength="70.43" lengthAdjust="spacingAndGlyphs">TradingView</tspan></text>
<text y="55.80" font-size="16.1" font-weight="normal" fill="#b2b2b4" stroke="#b2b2b4" stroke-width="0.5"><tspan x="18.71" textLength="64.45" lengthAdjust="spacingAndGlyphs">BTC/USD</tspan> <tspan x="88.18" textLength="37.90" lengthAdjust="spacingAndGlyphs">Perp,</tspan> <tspan x="131.61" textLength="21.87" lengthAdjust="spacingAndGlyphs">4h,</tspan> <tspan x="159.00" textLength="49.46" lengthAdjust="spacingAndGlyphs">BitMEX</tspan></text>
<text y="292.40" font-size="16.1" font-weight="normal" fill="#b2b2b4" stroke="#b2b2b4" stroke-width="0.5"><tspan x="18.75" textLength="49.03" lengthAdjust="spacingAndGlyphs">Intérêt</tspan> <tspan x="73.45" textLength="46.43" lengthAdjust="spacingAndGlyphs">ouvert</tspan></text>
<text y="410.40" font-size="16.1" font-weight="normal" fill="#b2b2b4" stroke="#b2b2b4" stroke-width="0.5"><tspan x="18.94" textLength="56.69" lengthAdjust="spacingAndGlyphs">Funding</tspan> <tspan x="80.23" textLength="31.89" lengthAdjust="spacingAndGlyphs">Rate</tspan> <tspan x="118.80" textLength="47.25" lengthAdjust="spacingAndGlyphs">(close)</tspan></text>
<text x="218.46" y="55.80" font-size="16.1" font-weight="normal" fill="#b2b2b4" stroke="#b2b2b4" stroke-width="0.5" textLength="9.53" lengthAdjust="spacingAndGlyphs">O</text>
<text x="229.08" y="55.80" font-size="16.1" font-weight="normal" fill="#26a69a" stroke="#26a69a" stroke-width="0.5" textLength="57.28" lengthAdjust="spacingAndGlyphs">69540.0</text>
<text x="296.06" y="55.80" font-size="16.1" font-weight="normal" fill="#b2b2b4" stroke="#b2b2b4" stroke-width="0.5" textLength="10.01" lengthAdjust="spacingAndGlyphs">H</text>
<text x="307.12" y="55.80" font-size="16.1" font-weight="normal" fill="#26a69a" stroke="#26a69a" stroke-width="0.5" textLength="55.26" lengthAdjust="spacingAndGlyphs">70373.5</text>
<text x="372.92" y="55.80" font-size="16.1" font-weight="normal" fill="#b2b2b4" stroke="#b2b2b4" stroke-width="0.5" textLength="8.21" lengthAdjust="spacingAndGlyphs">B</text>
<text x="381.59" y="55.80" font-size="16.1" font-weight="normal" fill="#26a69a" stroke="#26a69a" stroke-width="0.5" textLength="56.30" lengthAdjust="spacingAndGlyphs">69485.5</text>
<text x="448.29" y="55.80" font-size="16.1" font-weight="normal" fill="#b2b2b4" stroke="#b2b2b4" stroke-width="0.5" textLength="8.37" lengthAdjust="spacingAndGlyphs">C</text>
<text x="457.84" y="55.80" font-size="16.1" font-weight="normal" fill="#26a69a" stroke="#26a69a" stroke-width="0.5" textLength="56.30" lengthAdjust="spacingAndGlyphs">69886.5</text>
<text x="524.68" y="55.80" font-size="16.1" font-weight="normal" fill="#26a69a" stroke="#26a69a" stroke-width="0.5" textLength="46.88" lengthAdjust="spacingAndGlyphs">+347.0</text>
<text x="578.10" y="55.80" font-size="16.1" font-weight="normal" fill="#26a69a" stroke="#26a69a" stroke-width="0.5" textLength="60.17" lengthAdjust="spacingAndGlyphs">(+0.50%)</text>
<text x="130.64" y="292.40" font-size="16.1" font-weight="normal" fill="#26a69a" stroke="#26a69a" stroke-width="0.5" textLength="67.65" lengthAdjust="spacingAndGlyphs">298.167M</text>
<text x="208.44" y="292.40" font-size="16.1" font-weight="normal" fill="#26a69a" stroke="#26a69a" stroke-width="0.5" textLength="68.37" lengthAdjust="spacingAndGlyphs">301.605M</text>
<text x="285.94" y="292.40" font-size="16.1" font-weight="normal" fill="#26a69a" stroke="#26a69a" stroke-width="0.5" textLength="68.67" lengthAdjust="spacingAndGlyphs">296.261M</text>
<text x="363.74" y="292.40" font-size="16.1" font-weight="normal" fill="#26a69a" stroke="#26a69a" stroke-width="0.5" textLength="68.47" lengthAdjust="spacingAndGlyphs">300.559M</text>
<text x="177.24" y="410.40" font-size="16.1" font-weight="normal" fill="#2fa81e" stroke="#2fa81e" stroke-width="0.5" textLength="47.41" lengthAdjust="spacingAndGlyphs">0.0100</text>
<text x="935.51" y="76.00" font-size="16.1" font-weight="normal" fill="#b2b2b4" stroke="#b2b2b4" stroke-width="0.5" textLength="56.85" lengthAdjust="spacingAndGlyphs">76000.0</text>
<text x="935.51" y="117.70" font-size="16.1" font-weight="normal" fill="#b2b2b4" stroke="#b2b2b4" stroke-width="0.5" textLength="56.85" lengthAdjust="spacingAndGlyphs">72000.0</text>
<text x="935.49" y="158.70" font-size="16.1" font-weight="normal" fill="#b2b2b4" stroke="#b2b2b4" stroke-width="0.5" textLength="56.88" lengthAdjust="spacingAndGlyphs">68000.0</text>
<text x="935.49" y="200.50" font-size="16.1" font-weight="normal" fill="#b2b2b4" stroke="#b2b2b4" stroke-width="0.5" textLength="56.88" lengthAdjust="spacingAndGlyphs">64000.0</text>
<text x="935.49" y="242.00" font-size="16.1" font-weight="normal" fill="#b2b2b4" stroke="#b2b2b4" stroke-width="0.5" textLength="56.88" lengthAdjust="spacingAndGlyphs">60000.0</text>
<text x="935.54" y="307.10" font-size="16.1" font-weight="normal" fill="#b2b2b4" stroke="#b2b2b4" stroke-width="0.5" textLength="37.90" lengthAdjust="spacingAndGlyphs">320M</text>
<text x="935.55" y="356.50" font-size="16.1" font-weight="normal" fill="#b2b2b4" stroke="#b2b2b4" stroke-width="0.5" textLength="37.89" lengthAdjust="spacingAndGlyphs">280M</text>
<text x="935.33" y="406.80" font-size="16.1" font-weight="normal" fill="#b2b2b4" stroke="#b2b2b4" stroke-width="0.5" textLength="48.28" lengthAdjust="spacingAndGlyphs">0.2000</text>
<text x="935.37" y="494.30" font-size="16.1" font-weight="normal" fill="#b2b2b4" stroke="#b2b2b4" stroke-width="0.5" textLength="56.89" lengthAdjust="spacingAndGlyphs">−0.2000</text>
<text x="935.20" y="139.50" font-size="16.1" font-weight="normal" fill="#ffffff" stroke="#ffffff" stroke-width="0.55" textLength="57.17" lengthAdjust="spacingAndGlyphs">69886.5</text>
<text x="935.55" y="331.10" font-size="16.1" font-weight="normal" fill="#ffffff" stroke="#ffffff" stroke-width="0.55" textLength="68.94" lengthAdjust="spacingAndGlyphs">300.559M</text>
<text x="935.36" y="448.60" font-size="16.1" font-weight="normal" fill="#ffffff" stroke="#ffffff" stroke-width="0.55" textLength="48.23" lengthAdjust="spacingAndGlyphs">0.0100</text>
<text x="67.67" y="526.50" font-size="16.1" font-weight="normal" fill="#b2b2b4" stroke="#b2b2b4" stroke-width="0.5" textLength="15.59" lengthAdjust="spacingAndGlyphs">21</text>
<text x="191.65" y="526.50" font-size="16.1" font-weight="normal" fill="#b2b2b4" stroke="#b2b2b4" stroke-width="0.5" textLength="16.57" lengthAdjust="spacingAndGlyphs">25</text>
<text x="287.92" y="526.50" font-size="16.1" font-weight="normal" fill="#b2b2b4" stroke="#b2b2b4" stroke-width="0.5" textLength="41.06" lengthAdjust="spacingAndGlyphs">13:00</text>
<text x="403.54" y="526.50" font-size="16.1" font-weight="bold" fill="#b2b2b4" stroke="#b2b2b4" stroke-width="0.05" textLength="25.71" lengthAdjust="spacingAndGlyphs">Avr</text>
<text x="536.10" y="526.50" font-size="16.1" font-weight="normal" fill="#b2b2b4" stroke="#b2b2b4" stroke-width="0.5" textLength="8.68" lengthAdjust="spacingAndGlyphs">5</text>
<text x="660.12" y="526.50" font-size="16.1" font-weight="normal" fill="#b2b2b4" stroke="#b2b2b4" stroke-width="0.5" textLength="8.76" lengthAdjust="spacingAndGlyphs">9</text>
<text x="779.51" y="526.50" font-size="16.1" font-weight="normal" fill="#b2b2b4" stroke="#b2b2b4" stroke-width="0.5" textLength="16.75" lengthAdjust="spacingAndGlyphs">13</text>
<text x="902.97" y="526.50" font-size="16.1" font-weight="normal" fill="#b2b2b4" stroke="#b2b2b4" stroke-width="0.5" textLength="17.37" lengthAdjust="spacingAndGlyphs">17</text>
<text x="25.15" y="561.75" font-size="13" font-weight="normal" fill="#dfe0e4" stroke="#dfe0e4" stroke-width="0.2" textLength="54.72" lengthAdjust="spacingAndGlyphs">Coinalyze</text>
</svg>
</body></html>
